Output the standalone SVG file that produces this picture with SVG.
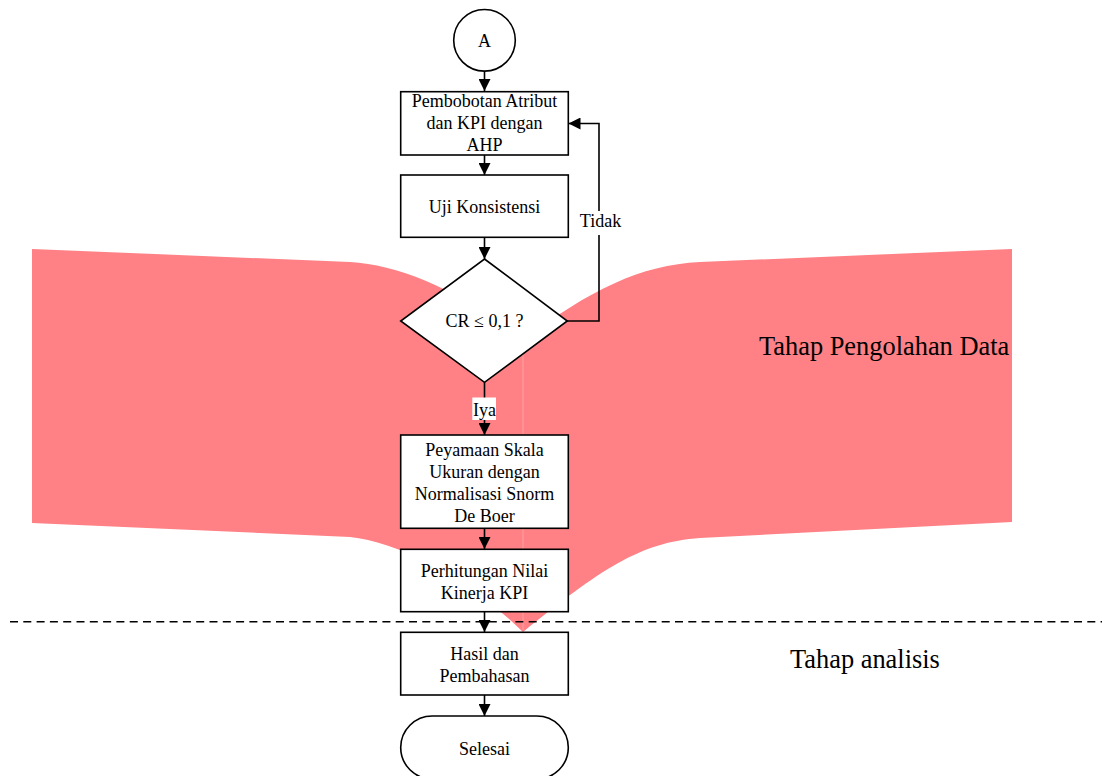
<svg xmlns="http://www.w3.org/2000/svg" width="1102" height="776" viewBox="0 0 1102 776">
<defs>
<style>
.box{fill:#fff;stroke:#000;stroke-width:1.6}
.t{font-family:"Liberation Serif","Times New Roman",serif;font-size:18px;fill:#000;text-anchor:middle}
.big{font-family:"Liberation Serif","Times New Roman",serif;font-size:26.4px;fill:#000}
.edge{fill:none;stroke:#000;stroke-width:1.6}
.brace{fill:#ff8085}
</style>
<marker id="arr" markerUnits="userSpaceOnUse" markerWidth="12" markerHeight="12" refX="12" refY="6" orient="auto">
<path d="M0,0 L12,6 L0,12 Z" fill="#000"/>
</marker>
</defs>
<rect width="1102" height="776" fill="#fff"/>
<g id="phase-brace">
<path class="brace" d="M32,249 L350,262 C400,265 460,290 523,340 L523,632 C470,580 400,542 350,537 L32,523 Z"/>
<path class="brace" d="M1012,249 L700,262 C640,265 590,290 523,340 L523,632 C600,570 640,542 700,538 L1012,522 Z"/>
<line x1="523" y1="345" x2="523" y2="630" stroke="#ffa2a5" stroke-width="1"/>
</g>
<line id="phase-divider" x1="10" y1="621.7" x2="1102" y2="621.7" stroke="#000" stroke-width="1.6" stroke-dasharray="8,5.3"/>
<g id="connectors">
<line class="edge" x1="484.5" y1="71" x2="484.5" y2="91" marker-end="url(#arr)"/>
<line class="edge" x1="484.5" y1="155" x2="484.5" y2="175" marker-end="url(#arr)"/>
<line class="edge" x1="484.5" y1="237" x2="484.5" y2="259" marker-end="url(#arr)"/>
<line class="edge" x1="484.5" y1="382" x2="484.5" y2="435" marker-end="url(#arr)"/>
<line class="edge" x1="484.5" y1="528" x2="484.5" y2="549" marker-end="url(#arr)"/>
<line class="edge" x1="484.5" y1="612" x2="484.5" y2="632" marker-end="url(#arr)"/>
<line class="edge" x1="484.5" y1="695" x2="484.5" y2="716" marker-end="url(#arr)"/>
<polyline class="edge" points="567,321 599,321 599,123.5 568.5,123.5" marker-end="url(#arr)"/>
<g id="label-tidak">
<rect x="578" y="211" width="45" height="24" fill="#fff"/>
<text class="t" x="600.5" y="227">Tidak</text>
</g>
<g id="label-iya">
<rect x="472.3" y="397.5" width="23.7" height="22.5" fill="#fff"/>
<text class="t" x="484.5" y="416">Iya</text>
</g>
</g>
<g id="node-a">
<circle class="box" cx="484.5" cy="40.3" r="30.8"/>
<text class="t" x="484.5" y="46.7">A</text>
</g>
<g id="node-pembobotan">
<rect class="box" x="400.7" y="91.7" width="167.6" height="63.3"/>
<text class="t" x="484.5" y="107">Pembobotan Atribut</text>
<text class="t" x="484.5" y="129">dan KPI dengan</text>
<text class="t" x="484.5" y="150.7">AHP</text>
</g>
<g id="node-uji">
<rect class="box" x="400.7" y="175" width="167.6" height="62.3"/>
<text class="t" x="484.5" y="212.7">Uji Konsistensi</text>
</g>
<g id="node-cr">
<polygon class="box" points="484.5,259 567.3,321 484.5,382.3 400.7,321"/>
<text class="t" x="484.5" y="326.7">CR ≤ 0,1 ?</text>
</g>
<g id="node-peyamaan">
<rect class="box" x="400.7" y="435" width="167.6" height="93.3"/>
<text class="t" x="484.5" y="455.5">Peyamaan Skala</text>
<text class="t" x="484.5" y="477.5">Ukuran dengan</text>
<text class="t" x="484.5" y="500">Normalisasi Snorm</text>
<text class="t" x="484.5" y="521.7">De Boer</text>
</g>
<g id="node-perhitungan">
<rect class="box" x="400.7" y="549.3" width="167.6" height="62.4"/>
<text class="t" x="484.5" y="576.7">Perhitungan Nilai</text>
<text class="t" x="484.5" y="599">Kinerja KPI</text>
</g>
<g id="node-hasil">
<rect class="box" x="400.7" y="632.3" width="167.6" height="62.7"/>
<text class="t" x="484.5" y="660">Hasil dan</text>
<text class="t" x="484.5" y="681.7">Pembahasan</text>
</g>
<g id="node-selesai">
<rect class="box" x="400.7" y="716" width="167.6" height="63" rx="31.5" ry="31.5"/>
<text class="t" x="484.5" y="755">Selesai</text>
</g>
<g id="phase-labels">
<text class="big" x="759" y="355">Tahap Pengolahan Data</text>
<text class="big" x="790" y="668.3">Tahap analisis</text>
</g>
</svg>
